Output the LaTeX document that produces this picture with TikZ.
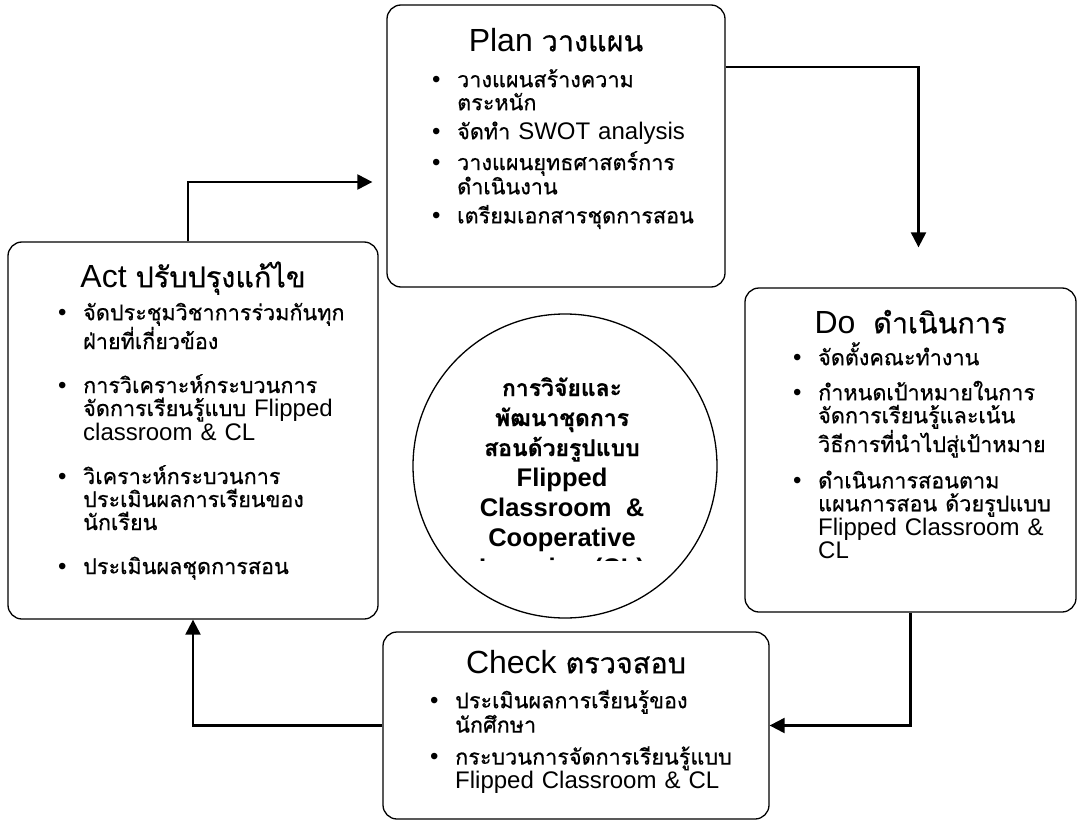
\documentclass[tikz,border=0pt]{standalone}
\usepackage{fontspec}
\setmainfont{Liberation Sans}
\newfontfamily\thaifont[Script=Thai, Scale=0.9, FakeBold=0.6]{Loma}
\usepackage{enumitem}
\usetikzlibrary{arrows.meta,positioning,shapes.geometric}

\newcommand{\tth}[1]{{\thaifont #1}}
\setlist[itemize]{label=\textbullet, leftmargin=25pt, labelwidth=10pt, labelsep=15pt, align=left, topsep=0pt, partopsep=0pt, parsep=0pt}
\lineskiplimit=-100pt

\tikzset{
  pdcabox/.style={draw, line width=1.3pt, rounded corners=14pt, inner sep=0pt},
  flow/.style={line width=2.2pt, -{Triangle[length=15pt,width=15pt]}},
  boxtitle/.style={anchor=base, inner sep=0pt, font=\fontsize{32}{34}\selectfont},
  itemlist/.style={anchor=north west, inner sep=0pt, text width=#1,
    font=\fontsize{24}{23}\selectfont},
  hub/.style={draw, circle, line width=1.3pt, inner sep=0pt},
  hubtext/.style={anchor=north, inner sep=0pt, align=center,
    font=\fontsize{25.5}{30}\selectfont\bfseries}
}

\begin{document}
\begin{tikzpicture}[x=1pt, y=-1pt]
  \useasboundingbox (0,0) rectangle (1078,821);

  % the four boxes
  \node[pdcabox, minimum width=338pt, minimum height=282pt] (plan) at (556,146) {};
  \node[pdcabox, minimum width=370pt, minimum height=377pt] (act) at (193,430.5) {};
  \node[pdcabox, minimum width=331pt, minimum height=324pt] (do) at (910.5,450) {};
  \node[pdcabox, minimum width=386pt, minimum height=187pt] (check) at (576,725.5) {};

  % Plan
  \node[boxtitle] (plantitle) at ([yshift=-47pt]plan.north) {Plan \tth{วางแผน}};
  \node[itemlist=280pt] (planlist) at (432,64) {%
    \begin{itemize}[itemsep=6pt]
      \item \tth{วางแผนสร้างความ}\\\tth{ตระหนัก}
      \item \tth{จัดทำ} SWOT analysis
      \item \tth{วางแผนยุทธศาสตร์การ}\\\tth{ดำเนินงาน}
      \item \tth{เตรียมเอกสารชุดการสอน}
    \end{itemize}};

  % Act
  \node[boxtitle] (acttitle) at ([yshift=-46pt]act.north) {Act \tth{ปรับปรุงแก้ไข}};
  \node[itemlist=310pt] (actlist) at (58,297) {%
    \begin{itemize}[itemsep=21pt]
      \item \tth{จัดประชุมวิชาการร่วมกันทุก}\\\tth{ฝ่ายที่เกี่ยวข้อง}
      \item \tth{การวิเคราะห์กระบวนการ}\\\tth{จัดการเรียนรู้แบบ} Flipped\\classroom \& CL
      \item \tth{วิเคราะห์กระบวนการ}\\\tth{ประเมินผลการเรียนของ}\\\tth{นักเรียน}
      \item \tth{ประเมินผลชุดการสอน}
    \end{itemize}};

  % Do
  \node[boxtitle] (dotitle) at ([yshift=-46pt]do.north) {Do\ \ \tth{ดำเนินการ}};
  \node[itemlist=275pt] (dolist) at (793,342) {%
    \begin{itemize}[itemsep=12pt]
      \item \tth{จัดตั้งคณะทำงาน}
      \item \tth{กำหนดเป้าหมายในการ}\\\tth{จัดการเรียนรู้และเน้น}\\\tth{วิธีการที่นำไปสู่เป้าหมาย}
      \item \tth{ดำเนินการสอนตาม}\\\tth{แผนการสอน ด้วยรูปแบบ}\\Flipped Classroom \&\\CL
    \end{itemize}};

  % Check
  \node[boxtitle] (checktitle) at ([yshift=-42pt]check.north) {Check \tth{ตรวจสอบ}};
  \node[itemlist=320pt] (checklist) at (430,685) {%
    \begin{itemize}[itemsep=9pt]
      \item \tth{ประเมินผลการเรียนรู้ของ}\\\tth{นักศึกษา}
      \item \tth{กระบวนการจัดการเรียนรู้แบบ}\\Flipped Classroom \& CL
    \end{itemize}};

  % centre
  \node[hub, minimum size=304pt] (hub) at (565,466) {};
  \begin{scope}
    \clip (420,320) rectangle (715,560);
    \node[hubtext] (hublabel) at (562,377) {\tth{การวิจัยและ}\\\tth{พัฒนาชุดการ}\\\tth{สอนด้วยรูปแบบ}\\Flipped\\Classroom\ \ \&\\Cooperative\\Learning (CL)};
  \end{scope}

  % cycle arrows
  \coordinate (planin) at ([xshift=-14pt,yshift=-36pt]plan.west);
  \coordinate (doin) at ([xshift=8pt,yshift=40pt]do.north);
  \draw[flow] ([xshift=-5pt]act.north) |- (planin);
  \draw[flow] ([yshift=79pt]plan.east) -| (doin);
  \draw[flow] (do.south) |- (check.east);
  \draw[flow] (check.west) -| (act.south);
\end{tikzpicture}
\end{document}
